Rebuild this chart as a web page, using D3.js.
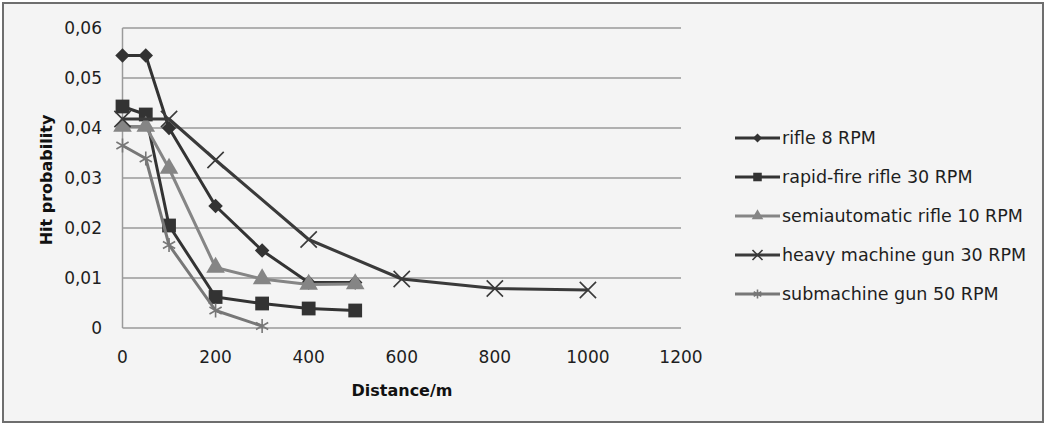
<!DOCTYPE html>
<html lang="en">
<head>
  <meta charset="UTF-8">
  <title>Hit probability vs distance</title>
  <script src="https://d3js.org/d3.v7.min.js"></script>
  <style>
    body { margin: 0; background: #ffffff; font-family: "DejaVu Sans", sans-serif; }
    .tick-label { font-size: 17px; fill: #1e1e1e; }
    .axis-title { font-size: 16px; font-weight: bold; fill: #111; }
    .legend { font-size: 17.5px; fill: #1e1e1e; }
  </style>
</head>
<body>
  <div id="chart"></div>
  <script>
    // series data
    const seriesNames = ["rifle 8 RPM", "rapid-fire rifle 30 RPM", "semiautomatic rifle 10 RPM",
                         "heavy machine gun 30 RPM", "submachine gun 50 RPM"];
    const rifleDist = [0, 50, 100, 200, 300, 400, 500];
    const rifleHit = [0.0545, 0.0545, 0.0400, 0.0244, 0.0155, 0.0091, 0.0091];
    const rapidDist = [0, 50, 100, 200, 300, 400, 500];
    const rapidHit = [0.0443, 0.0427, 0.0205, 0.0062, 0.0049, 0.0039, 0.0035];
    const semiDist = [0, 50, 100, 200, 300, 400, 500];
    const semiHit = [0.0403, 0.0403, 0.0319, 0.0121, 0.0098, 0.0087, 0.0088];
    const hmgDist = [0, 100, 200, 400, 600, 800, 1000];
    const hmgHit = [0.0418, 0.0418, 0.0336, 0.0177, 0.0098, 0.0079, 0.0076];
    const smgDist = [0, 50, 100, 200, 300];
    const smgHit = [0.0365, 0.0339, 0.0166, 0.0035, 0.0004];
    const xTicks = [0, 200, 400, 600, 800, 1000, 1200];
    const yTicks = [0, 0.01, 0.02, 0.03, 0.04, 0.05, 0.06];

    const W = 1050, H = 427;
    const svg = d3.select("#chart").append("svg").attr("width", W).attr("height", H);

    // outer frame
    svg.append("rect").attr("x", 3).attr("y", 3).attr("width", 1040).attr("height", 419)
      .attr("fill", "#f4f4f4").attr("stroke", "#6e6e6e").attr("stroke-width", 2);

    const x = d3.scaleLinear().domain([0, 1200]).range([122.5, 681]);
    const y = d3.scaleLinear().domain([0, 0.06]).range([328, 28]);

    const locale = d3.formatLocale({ decimal: ",", thousands: "", grouping: [3], currency: ["", ""] });
    const yFmt = locale.format(".2f");

    // gridlines
    svg.append("g").selectAll("line").data(yTicks).enter().append("line")
      .attr("x1", x(0)).attr("x2", x(1200))
      .attr("y1", d => y(d)).attr("y2", d => y(d))
      .attr("stroke", "#9a9a9a").attr("stroke-width", 1.5);
    svg.append("line").attr("x1", x(0)).attr("x2", x(0)).attr("y1", y(0)).attr("y2", y(0.06))
      .attr("stroke", "#9a9a9a").attr("stroke-width", 1.5);

    // tick labels
    svg.append("g").selectAll("text").data(yTicks).enter().append("text")
      .attr("class", "tick-label").attr("x", 102).attr("y", d => y(d)).attr("dy", "0.35em")
      .attr("text-anchor", "end").text(d => d === 0 ? "0" : yFmt(d));
    svg.append("g").selectAll("text").data(xTicks).enter().append("text")
      .attr("class", "tick-label").attr("x", d => x(d)).attr("y", 357).attr("dy", "0.35em")
      .attr("text-anchor", "middle").text(d => d);

    svg.append("text").attr("class", "axis-title")
      .attr("transform", "translate(46,180) rotate(-90)").attr("text-anchor", "middle")
      .attr("dy", "0.35em").text("Hit probability");
    svg.append("text").attr("class", "axis-title")
      .attr("x", 402).attr("y", 390).attr("dy", "0.35em").attr("text-anchor", "middle")
      .text("Distance/m");

    const series = [
      { name: seriesNames[0], dist: rifleDist, hit: rifleHit, color: "#333333", sym: "diamond" },
      { name: seriesNames[1], dist: rapidDist, hit: rapidHit, color: "#333333", sym: "square" },
      { name: seriesNames[2], dist: semiDist, hit: semiHit, color: "#858585", sym: "triangle" },
      { name: seriesNames[3], dist: hmgDist, hit: hmgHit, color: "#3a3a3a", sym: "times" },
      { name: seriesNames[4], dist: smgDist, hit: smgHit, color: "#777777", sym: "asterisk" }
    ];

    function marker(g, s, k) {
      if (s.sym === "diamond") {
        g.append("path").attr("d", d3.symbol(d3.symbolSquare, 105 * k * k)())
          .attr("transform", "rotate(45)").attr("fill", s.color);
      } else if (s.sym === "square") {
        g.append("path").attr("d", d3.symbol(d3.symbolSquare, 190 * k * k)()).attr("fill", s.color);
      } else if (s.sym === "triangle") {
        g.append("path").attr("d", d3.symbol(d3.symbolTriangle, 150 * k * k)()).attr("fill", s.color);
      } else if (s.sym === "times") {
        g.append("path").attr("d", d3.symbol(d3.symbolTimes, 175 * k * k)())
          .attr("fill", "none").attr("stroke", s.color).attr("stroke-width", 1.6);
      } else {
        g.append("path").attr("d", d3.symbol(d3.symbolAsterisk, 140 * k * k)())
          .attr("fill", "none").attr("stroke", s.color).attr("stroke-width", 1.6);
      }
    }

    series.forEach(s => {
      const pts = s.dist.map((d, i) => [d, s.hit[i]]);
      const line = d3.line().x(d => x(d[0])).y(d => y(d[1]));
      svg.append("path").datum(pts).attr("d", line)
        .attr("fill", "none").attr("stroke", s.color).attr("stroke-width", 3)
        .attr("stroke-linejoin", "round");
      pts.forEach(p => {
        const g = svg.append("g").attr("transform", `translate(${x(p[0])},${y(p[1])})`);
        marker(g, s, 1);
      });
    });

    // legend
    const legend = svg.append("g");
    series.forEach((s, i) => {
      const ly = 138 + i * 39;
      legend.append("line").attr("x1", 735).attr("x2", 780).attr("y1", ly).attr("y2", ly)
        .attr("stroke", s.color).attr("stroke-width", 3);
      const g = legend.append("g").attr("transform", `translate(757.5,${ly})`);
      marker(g, s, 0.62);
      legend.append("text").attr("class", "legend").attr("x", 782).attr("y", ly)
        .attr("dy", "0.35em").text(s.name);
    });
  </script>
</body>
</html>
